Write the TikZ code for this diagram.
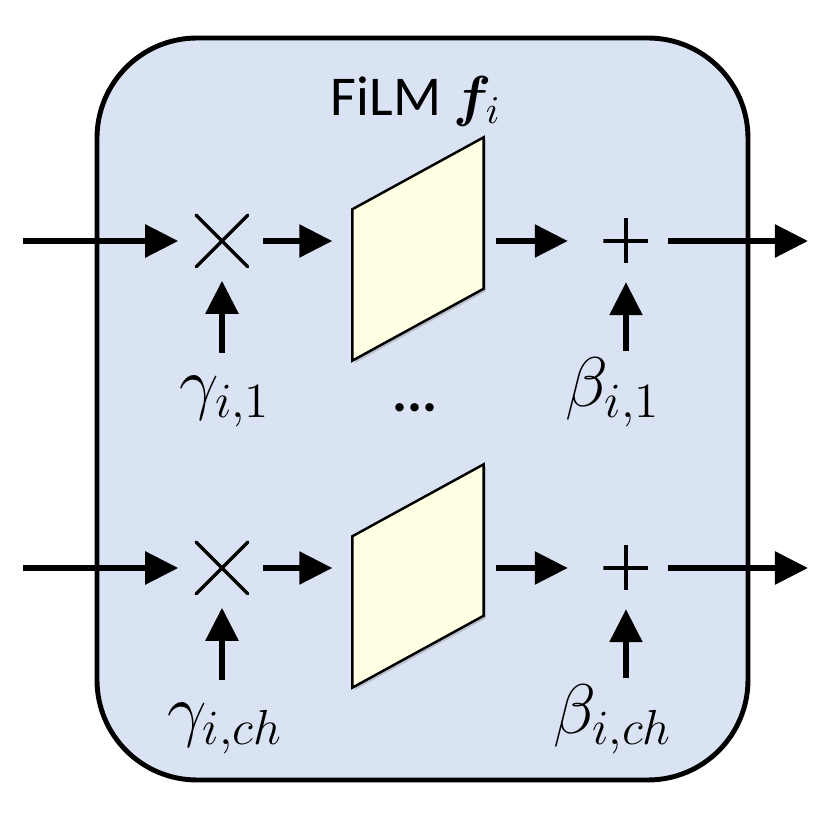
\documentclass[tikz,border=0pt]{standalone}
\usepackage{fix-cm}
\usepackage{amsmath,bm}
\usepackage{fontspec}
\setmainfont{Carlito}
\usetikzlibrary{arrows.meta, calc, shapes.misc, shadows}
\definecolor{filmblue}{RGB}{218, 227, 243}
\definecolor{sheetyellow}{RGB}{255, 255, 228}

\tikzset{
    arr/.style={line width=1.6pt, -{Triangle[length=0.33cm, width=0.32cm]}},
    opcross/.style={cross out, draw, line width=1pt, line cap=round, minimum size=0.48cm, inner sep=0pt},
    opplus/.style={minimum size=0.45cm, inner sep=0pt,
        path picture={\draw[line width=1pt]
            (path picture bounding box.north) -- (path picture bounding box.south)
            (path picture bounding box.west) -- (path picture bounding box.east);}},
    sheet/.style={draw, line width=0.7pt, fill=sheetyellow,
        drop shadow={shadow xshift=0.7pt, shadow yshift=-0.7pt, opacity=0.35}},
    coef/.style={font=\fontsize{20}{24}\selectfont, anchor=base, inner sep=1pt},
}

\begin{document}
\begin{tikzpicture}
\useasboundingbox (0,0) rectangle (8.33,8.19);

% === Bloque FiLM ===
\draw[line width=1.4pt, fill=filmblue, rounded corners=1cm] (0.97,0.39) rectangle (7.48,7.81);
\node[anchor=base, font=\fontsize{16}{19}\selectfont] (title) at (4.16,7.04) {FiLM $\bm{f}_i$};

% Filas (canal 1 y canal ch)
\foreach \k/\sub/\y in {1/1/5.78, 2/ch/2.51} {
    \coordinate (in\k) at (0.23,\y);
    \coordinate (out\k) at (8.08,\y);
    \node[opcross] (mul\k) at (2.22,\y) {};
    \node[opplus] (add\k) at (6.26,\y) {};
    \node[minimum width=1.3cm, minimum height=1.5cm, inner sep=0pt] (par\k) at (4.18,\y-0.08) {};

    % Mapa de activacion
    \draw[sheet] ($(par\k.south west)+(0,-0.36)$) -- ($(par\k.north west)+(0,-0.36)$)
        -- ($(par\k.north east)+(0,0.36)$) -- ($(par\k.south east)+(0,0.36)$) -- cycle;

    % Coeficientes
    \node[coef] (gam\k) at (2.25,\y-1.66) {$\gamma_{i,\sub}$};
    \node[coef] (bet\k) at (6.13,\y-1.66) {$\beta_{i,\sub}$};

    % Flechas
    \draw[arr, shorten >=0.18cm] (in\k) -- (mul\k);
    \draw[arr, shorten <=0.15cm, shorten >=0.20cm] (mul\k.east) -- (mul\k.east -| par\k.west);
    \draw[arr, shorten <=0.12cm, shorten >=0.35cm] (par\k.east |- add\k.west) -- (add\k.west);
    \draw[arr, shorten <=0.19cm] (add\k.east) -- (out\k);
    \draw[arr, shorten <=0.2cm, shorten >=0.14cm] (gam\k.north -| mul\k) -- (mul\k.south);
    \draw[arr, shorten <=0.03cm, shorten >=0.18cm] (bet\k.north -| add\k) -- (add\k.south);
}

\node[anchor=base, font=\fontsize{16}{19}\selectfont\bfseries] (dots) at (4.15,4.07) {...};

\end{tikzpicture}
\end{document}
